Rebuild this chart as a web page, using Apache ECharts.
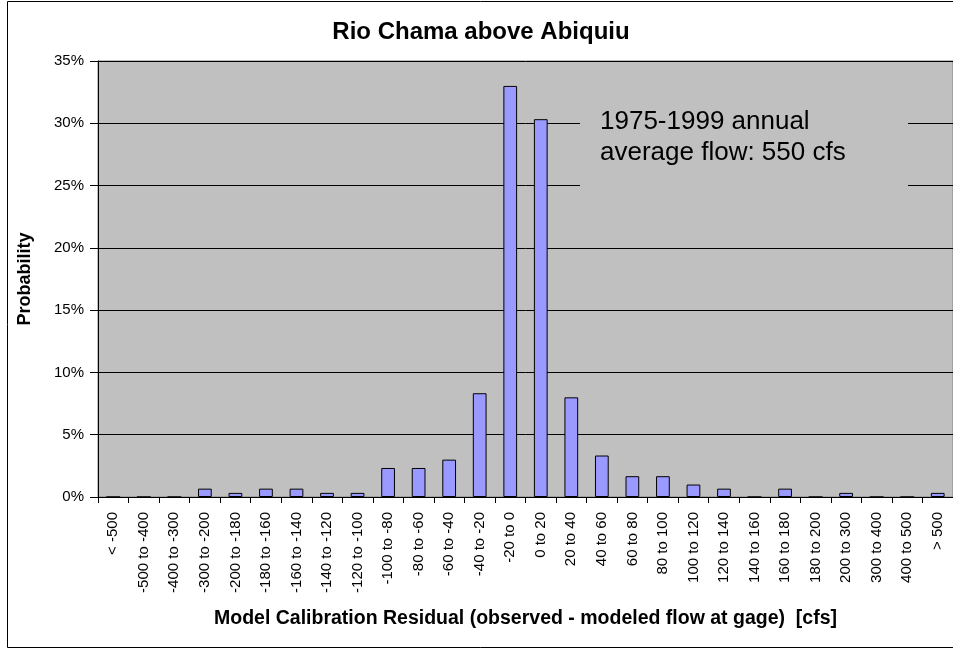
<!DOCTYPE html>
<html>
<head>
<meta charset="utf-8">
<script src="https://cdn.jsdelivr.net/npm/echarts@6/dist/echarts.min.js"></script>
<style>
html,body{margin:0;padding:0;background:#fff;}
#c{width:953px;height:649px;}
</style>
</head>
<body>
<div id="c"></div>
<script>
var categories = ['< -500','-500 to -400','-400 to -300','-300 to -200','-200 to -180','-180 to -160','-160 to -140','-140 to -120','-120 to -100','-100 to -80','-80 to -60','-60 to -40','-40 to -20','-20 to 0','0 to 20','20 to 40','40 to 60','60 to 80','80 to 100','100 to 120','120 to 140','140 to 160','160 to 180','180 to 200','200 to 300','300 to 400','400 to 500','> 500'];
var probability = [0, 0, 0, 0.67, 0.33, 0.67, 0.67, 0.33, 0.33, 2.33, 2.33, 3.0, 8.33, 33.0, 30.33, 8.0, 3.33, 1.67, 1.67, 1.0, 0.67, 0, 0.67, 0, 0.33, 0, 0, 0.33];
var yTicks = { min: 0, max: 35, interval: 5 };
var titleText = 'Rio Chama above Abiquiu';
var xTitle = 'Model Calibration Residual (observed - modeled flow at gage)  [cfs]';
var yTitle = 'Probability';
var noteLines = ['1975-1999 annual', 'average flow: 550 cfs'];

var FONT = '"Liberation Sans", Arial, sans-serif';
var chart = echarts.init(document.getElementById('c'), null, {renderer: 'canvas'});
chart.setOption({
  animation: false,
  backgroundColor: '#ffffff',
  textStyle: { fontFamily: FONT },
  title: {
    text: titleText,
    left: 476, top: 15, textAlign: 'center',
    textStyle: { fontFamily: FONT, fontWeight: 'bold', fontSize: 24, color: '#000' }
  },
  grid: {
    left: 98, top: 61, right: -3, bottom: 152,
    show: true, backgroundColor: '#c0c0c0', borderColor: '#808080', borderWidth: 1
  },
  xAxis: {
    type: 'category',
    data: categories,
    name: xTitle,
    nameLocation: 'middle',
    nameGap: 112,
    nameTextStyle: { fontFamily: FONT, fontWeight: 'bold', fontSize: 19.5, color: '#000' },
    axisLine: { lineStyle: { color: '#000', width: 1 } },
    axisTick: { show: true, length: 6, lineStyle: { color: '#000' } },
    axisLabel: { rotate: 90, margin: 15, fontSize: 15, color: '#000', fontFamily: FONT, interval: 0 }
  },
  yAxis: {
    type: 'value',
    min: yTicks.min, max: yTicks.max, interval: yTicks.interval,
    name: yTitle,
    nameLocation: 'middle',
    nameRotate: 90,
    nameGap: 64,
    nameTextStyle: { fontFamily: FONT, fontWeight: 'bold', fontSize: 18, color: '#000' },
    axisLine: { show: true, lineStyle: { color: '#000', width: 1 } },
    axisTick: { show: true, length: 8, lineStyle: { color: '#000' } },
    axisLabel: { formatter: '{value}%', fontSize: 15, color: '#000', margin: 14, fontFamily: FONT },
    splitLine: { show: true, lineStyle: { color: '#000', width: 1 } }
  },
  series: [{
    type: 'bar',
    data: probability,
    barWidth: '45%',
    itemStyle: { color: '#9999ff', borderColor: '#000', borderWidth: 1 }
  }],
  graphic: [
    {
      type: 'rect', silent: true, z: 100,
      shape: { x: 7.5, y: 1.5, width: 1000, height: 646 },
      style: { fill: 'none', stroke: '#000', lineWidth: 1 }
    },
    {
      type: 'rect', silent: true, z: 5,
      shape: { x: 580, y: 98, width: 328, height: 100 },
      style: { fill: '#c0c0c0' }
    },
    {
      type: 'text', silent: true, z: 6,
      left: 600, top: 106,
      style: { text: noteLines.join('\n'), font: '26px ' + FONT, fill: '#000', lineHeight: 31 }
    }
  ]
});
</script>
</body>
</html>
